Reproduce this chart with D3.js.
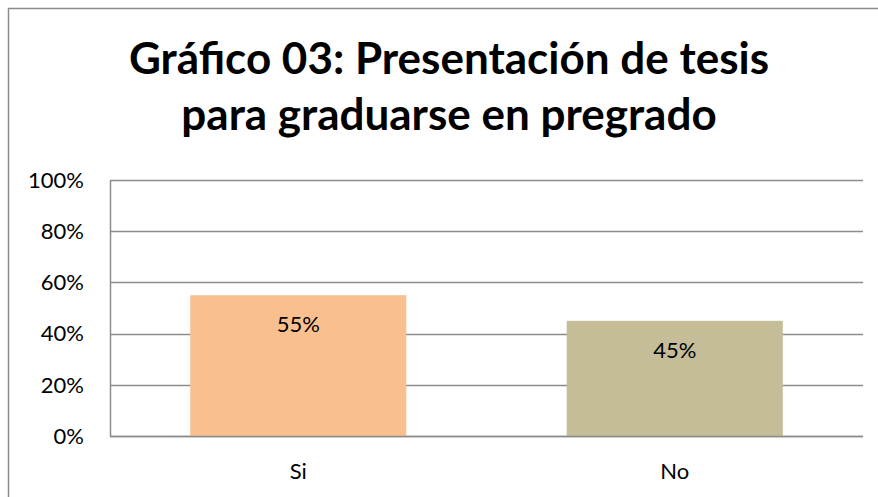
<!DOCTYPE html>
<html>
<head>
<meta charset="utf-8">
<script src="https://cdn.jsdelivr.net/npm/d3@7.9.0/dist/d3.min.js"></script>
<style>
  body { margin: 0; background: #fff; overflow: hidden; }
  svg { display: block; }
</style>
</head>
<body>
<div id="chart"></div>
<script>
const titleLines = ["Gráfico 03: Presentación de tesis", "para graduarse en pregrado"];
const categories = ["Si", "No"];
const values = [0.55, 0.45];
const barColors = ["#f9bf8f", "#c4bd97"];
const yTicks = [0, 0.2, 0.4, 0.6, 0.8, 1.0];

const width = 878, height = 497;
const margin = { top: 180, right: 15, bottom: 61, left: 110 };
const fontFamily = "Lato, 'Open Sans', sans-serif";
const gridColor = "#8c8c8c";

const svg = d3.select("#chart").append("svg")
  .attr("width", width)
  .attr("height", height);

// outer chart frame: only top and left edges are inside the view
svg.append("path")
  .attr("d", "M8.5,500V8.5H880")
  .attr("fill", "none")
  .attr("stroke", gridColor)
  .attr("stroke-width", 1.5);

const title = svg.append("text")
  .attr("text-anchor", "middle")
  .style("font-family", fontFamily)
  .style("font-weight", "bold")
  .style("font-size", "44px")
  .attr("fill", "#000");
titleLines.forEach((t, i) => {
  title.append("tspan")
    .attr("x", 449)
    .attr("y", 74 + i * 56)
    .text(t);
});

const x = d3.scaleBand()
  .domain(categories)
  .range([margin.left, width - margin.right])
  .paddingInner(0.426)
  .paddingOuter(0.213);

const y = d3.scaleLinear()
  .domain([0, 1])
  .range([height - margin.bottom, margin.top]);

// gridlines
svg.append("g")
  .selectAll("line")
  .data(yTicks)
  .join("line")
  .attr("x1", margin.left)
  .attr("x2", width - margin.right)
  .attr("y1", d => Math.round(y(d)) + 0.5)
  .attr("y2", d => Math.round(y(d)) + 0.5)
  .attr("stroke", gridColor)
  .attr("stroke-width", 1.5);

// left axis line
svg.append("line")
  .attr("x1", margin.left + 0.5).attr("x2", margin.left + 0.5)
  .attr("y1", y(1)).attr("y2", y(0))
  .attr("stroke", gridColor)
  .attr("stroke-width", 1.5);

// y tick labels
svg.append("g")
  .selectAll("text")
  .data(yTicks)
  .join("text")
  .attr("x", 84)
  .attr("y", d => y(d))
  .attr("dy", "0.35em")
  .attr("text-anchor", "end")
  .style("font-family", fontFamily)
  .style("font-size", "22px")
  .attr("fill", "#000")
  .text(d => d3.format(".0%")(d));

// bars
svg.append("g")
  .selectAll("rect")
  .data(categories)
  .join("rect")
  .attr("x", d => x(d))
  .attr("width", x.bandwidth())
  .attr("y", (d, i) => y(values[i]))
  .attr("height", (d, i) => y(0) - y(values[i]))
  .attr("fill", (d, i) => barColors[i]);

// baseline drawn over bars
svg.append("line")
  .attr("x1", margin.left).attr("x2", width - margin.right)
  .attr("y1", Math.round(y(0)) + 0.5).attr("y2", Math.round(y(0)) + 0.5)
  .attr("stroke", gridColor)
  .attr("stroke-width", 1.5);

// value labels
svg.append("g")
  .selectAll("text")
  .data(categories)
  .join("text")
  .attr("x", d => x(d) + x.bandwidth() / 2)
  .attr("y", (d, i) => y(values[i]) + 37)
  .attr("text-anchor", "middle")
  .style("font-family", fontFamily)
  .style("font-size", "22px")
  .attr("fill", "#000")
  .text((d, i) => d3.format(".0%")(values[i]));

// category labels
svg.append("g")
  .selectAll("text")
  .data(categories)
  .join("text")
  .attr("x", d => x(d) + x.bandwidth() / 2)
  .attr("y", 479)
  .attr("text-anchor", "middle")
  .style("font-family", fontFamily)
  .style("font-size", "22px")
  .attr("fill", "#000")
  .text(d => d);
</script>
</body>
</html>
